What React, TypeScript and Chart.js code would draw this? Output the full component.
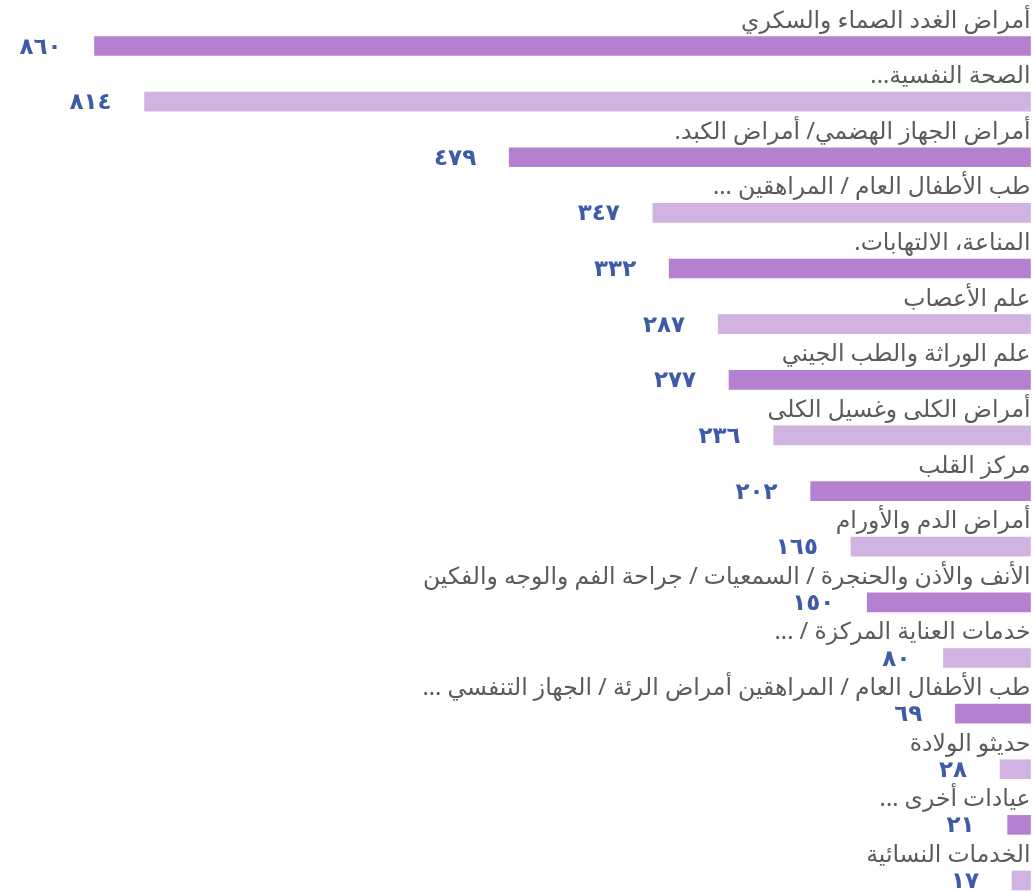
import React, { useEffect, useRef } from "react";
import { Chart, registerables } from "chart.js";

Chart.register(...registerables);

const categories: string[] = [
  "أمراض الغدد الصماء والسكري",
  "الصحة النفسية...",
  "أمراض الجهاز الهضمي/ أمراض الكبد.",
  "طب الأطفال العام / المراهقين ...",
  "المناعة، الالتهابات.",
  "علم الأعصاب",
  "علم الوراثة والطب الجيني",
  "أمراض الكلى وغسيل الكلى",
  "مركز القلب",
  "أمراض الدم والأورام",
  "الأنف والأذن والحنجرة / السمعيات / جراحة الفم والوجه والفكين",
  "خدمات العناية المركزة / ...",
  "طب الأطفال العام / المراهقين أمراض الرئة / الجهاز التنفسي ...",
  "حديثو الولادة",
  "عيادات أخرى ...",
  "الخدمات النسائية",
];

const values: number[] = [860, 814, 479, 347, 332, 287, 277, 236, 202, 165, 150, 80, 69, 28, 21, 17];

const valueLabels: string[] = [
  "٨٦٠", "٨١٤", "٤٧٩", "٣٤٧", "٣٣٢", "٢٨٧", "٢٧٧", "٢٣٦",
  "٢٠٢", "١٦٥", "١٥٠", "٨٠", "٦٩", "٢٨", "٢١", "١٧",
];

const DARK = "#b680d0";
const LIGHT = "#d0b3e1";
const barColors: string[] = values.map((_, i) => (i % 2 === 0 ? DARK : LIGHT));

const LABEL_COLOR = "#5b5b5b";
const VALUE_COLOR = "#3d5ba8";
const FONT_FAMILY = "'Noto Sans', 'DejaVu Sans', sans-serif";

const labelPlugin = {
  id: "barLabels",
  afterDatasetsDraw(chart: any) {
    const ctx = chart.ctx as CanvasRenderingContext2D;
    const meta = chart.getDatasetMeta(0);
    const right = chart.chartArea.right;
    ctx.save();
    meta.data.forEach((bar: any, i: number) => {
      const p = bar.getProps(["x", "y", "base", "height"], true);
      const top = p.y - p.height / 2;
      // category label above bar
      ctx.direction = "rtl";
      ctx.textAlign = "right";
      ctx.textBaseline = "alphabetic";
      ctx.fillStyle = LABEL_COLOR;
      ctx.font = `23.5px ${FONT_FAMILY}`;
      ctx.fillText(categories[i], right, top - 9);
      // value label left of bar
      const left = Math.min(p.x, p.base);
      ctx.direction = "ltr";
      ctx.textAlign = "right";
      ctx.textBaseline = "middle";
      ctx.fillStyle = VALUE_COLOR;
      ctx.font = `bold 23px ${FONT_FAMILY}`;
      ctx.fillText(valueLabels[i], left - 33, p.y + 1);
    });
    ctx.restore();
  },
};

export default function App() {
  const canvasRef = useRef<HTMLCanvasElement | null>(null);

  useEffect(() => {
    const canvas = canvasRef.current;
    if (!canvas) return;
    const chart = new Chart(canvas, {
      type: "bar",
      data: {
        labels: categories,
        datasets: [
          {
            data: values,
            backgroundColor: barColors,
            borderWidth: 0,
            barThickness: 19,
            clip: false as any,
          },
        ],
      },
      options: {
        indexAxis: "y",
        responsive: false,
        animation: false,
        devicePixelRatio: 1,
        layout: { padding: { left: 51, right: 1.5, top: 46, bottom: 11.5 } },
        plugins: {
          legend: { display: false },
          tooltip: { enabled: false },
        },
        scales: {
          x: {
            type: "linear",
            reverse: true,
            min: 0,
            max: 900,
            display: false,
          },
          y: {
            type: "category",
            offset: false,
            display: false,
            grid: { display: false },
          },
        },
      },
      plugins: [labelPlugin],
    });
    return () => chart.destroy();
  }, []);

  return (
    <div style={{ position: "fixed", left: 0, top: 0, width: 1032, height: 892, background: "#ffffff" }}>
      <canvas ref={canvasRef} width={1032} height={892} />
    </div>
  );
}
